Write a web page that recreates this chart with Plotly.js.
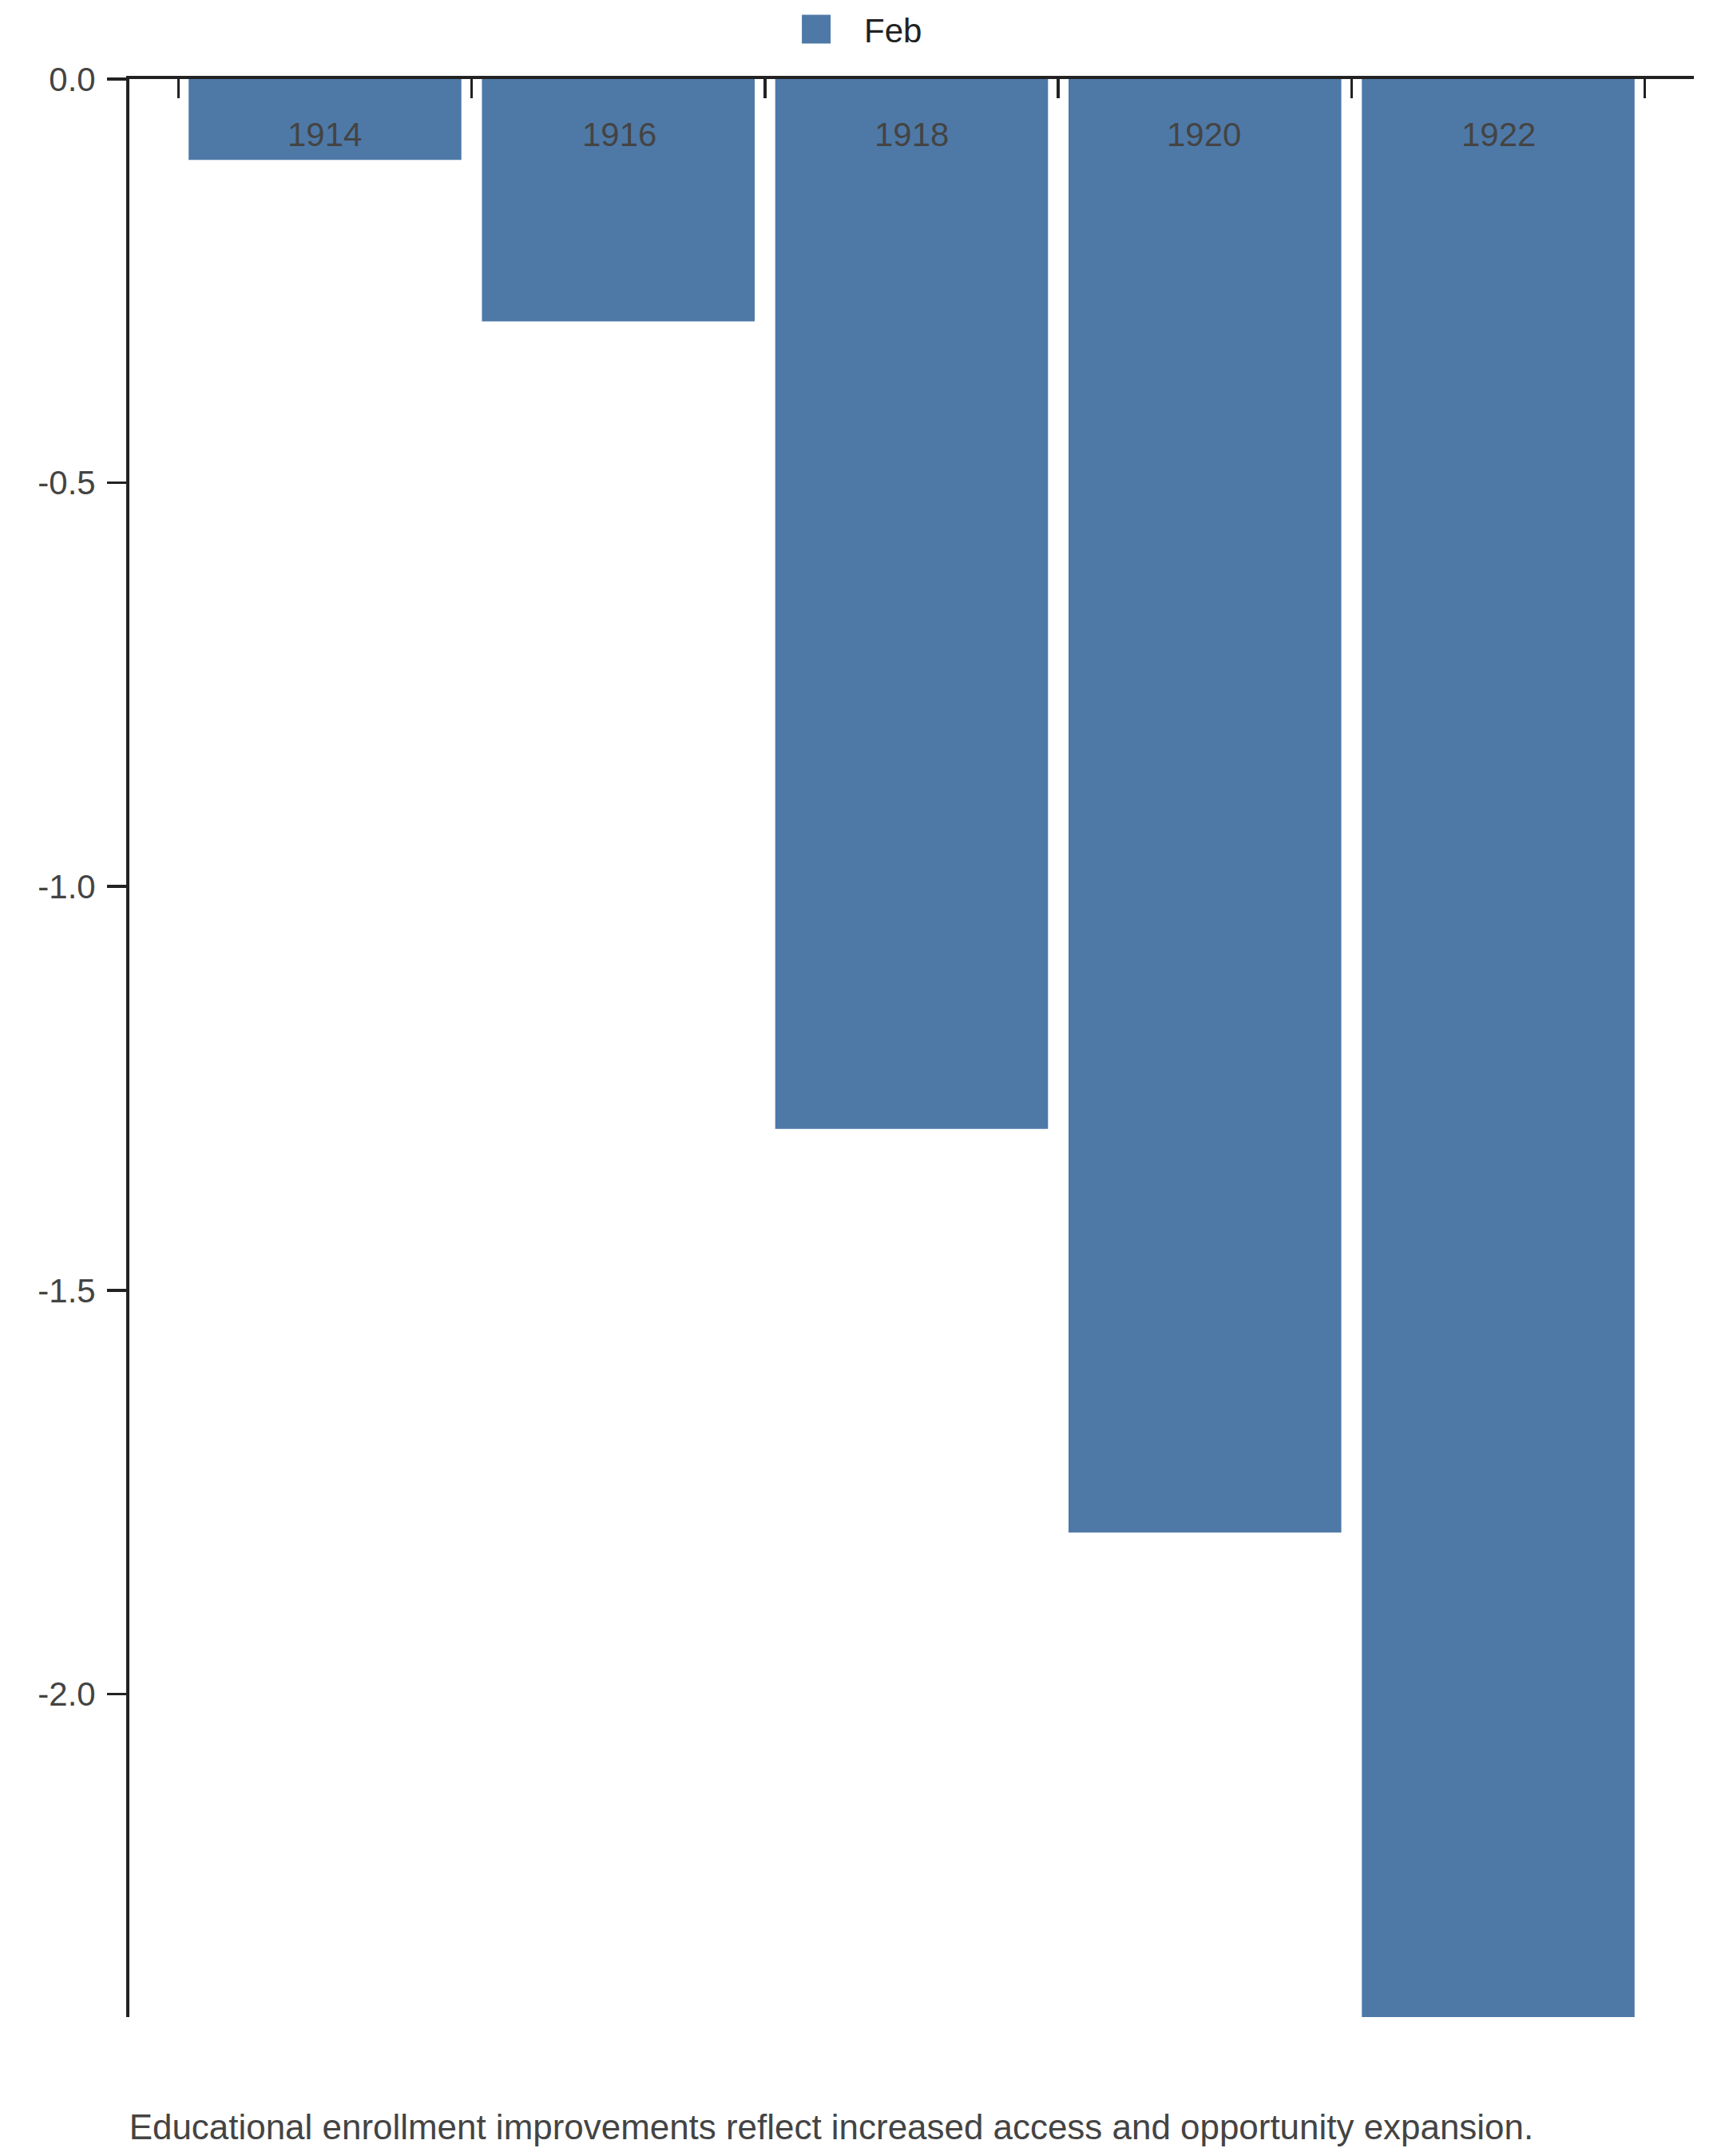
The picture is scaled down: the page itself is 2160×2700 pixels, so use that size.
<!DOCTYPE html>
<html>
<head>
<meta charset="utf-8">
<script src="https://cdn.plot.ly/plotly-3.0.1.min.js"></script>
<style>
  html, body { margin: 0; padding: 0; background: #fff; }
  #chart { width: 720px; height: 900px; zoom: 3; }
</style>
</head>
<body>
<div id="chart"></div>
<script>
// data
var years = ["1914", "1916", "1918", "1920", "1922"];
var febValues = [-0.1, -0.3, -1.3, -1.8, -2.4];
var yTickVals = [0, -0.5, -1, -1.5, -2];
var yTickText = ["0.0", "-0.5", "-1.0", "-1.5", "-2.0"];
var caption = "Educational enrollment improvements reflect increased access and opportunity expansion.";

var font = "Liberation Sans, Arial, sans-serif";

var trace = {
  type: "bar",
  name: "Feb",
  x: years,
  y: febValues,
  marker: {color: "#4e79a7"},
  hoverinfo: "skip"
};

// year labels sit just under the top axis, one per category
// (category axis positions are given by index)
var yearLabels = years.map(function(yr, i) {
  return {
    text: yr,
    xref: "x",
    yref: "paper",
    x: i,
    y: 0.9716,
    xanchor: "center",
    yanchor: "middle",
    showarrow: false,
    font: {size: 14, color: "#444"}
  };
});

var layout = {
  width: 720,
  height: 900,
  margin: {l: 54, r: 13, t: 33, b: 58},
  paper_bgcolor: "#fff",
  plot_bgcolor: "#fff",
  font: {family: font, size: 14, color: "#444"},
  bargap: 0.07,
  showlegend: true,
  legend: {
    orientation: "h",
    x: 0.462,
    xanchor: "center",
    yref: "container",
    y: 0.986,
    yanchor: "middle",
    font: {size: 14, color: "#222"}
  },
  xaxis: {
    type: "category",
    categoryorder: "array",
    categoryarray: years,
    range: [-0.667, 4.667],
    side: "top",
    tickson: "boundaries",
    ticks: "inside",
    ticklen: 8,
    tickwidth: 1.2,
    tickcolor: "#222",
    showticklabels: false,
    showline: true,
    linecolor: "#222",
    linewidth: 1.3,
    showgrid: false,
    zeroline: false,
    fixedrange: true
  },
  yaxis: {
    range: [-2.4, 0],
    tickvals: yTickVals,
    ticktext: yTickText,
    ticks: "outside",
    ticklen: 8,
    tickwidth: 1.2,
    tickcolor: "#222",
    ticklabelstandoff: 2,
    tickfont: {size: 14, color: "#444"},
    showline: true,
    linecolor: "#222",
    linewidth: 1.3,
    showgrid: false,
    zeroline: false,
    fixedrange: true
  },
  annotations: yearLabels.concat([{
    text: caption,
    xref: "paper",
    yref: "paper",
    x: -0.0026,
    y: -0.0572,
    xanchor: "left",
    yanchor: "middle",
    showarrow: false,
    font: {size: 14.65, color: "#444"}
  }])
};

Plotly.newPlot("chart", [trace], layout, {staticPlot: true, displayModeBar: false});
</script>
</body>
</html>
